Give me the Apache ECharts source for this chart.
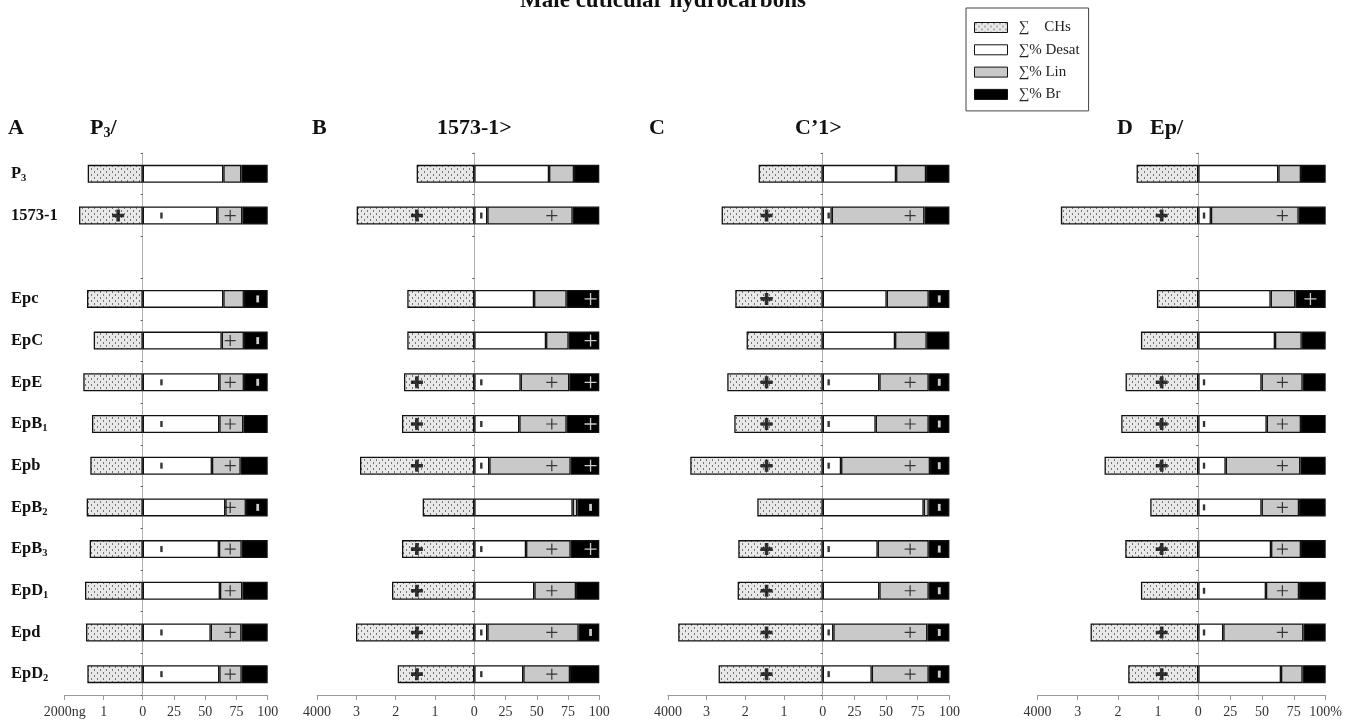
<!DOCTYPE html>
<html>
<head>
<meta charset="utf-8">
<script src="https://cdn.jsdelivr.net/npm/echarts@6/dist/echarts.min.js"></script>
<style>
  html, body { margin: 0; padding: 0; background: #fff; }
  #chart { width: 1359px; height: 724px; }
</style>
</head>
<body>
<div id="chart"></div>
<script>
// Strains / lines, top to bottom (the empty entry is a spacer row)
const categories = ['P3', '1573-1', '', 'Epc', 'EpC', 'EpE', 'EpB1', 'Epb', 'EpB2', 'EpB3', 'EpD1', 'Epd', 'EpD2'];

// Total cuticular hydrocarbons (ng) per panel
const totA = [1410, 1633, null, 1428, 1256, 1523, 1300, 1343, 1436, 1359, 1479, 1453, 1419];
const totB = [1466, 2993, null, 1705, 1705, 1789, 1840, 2908, 1313, 1840, 2094, 3010, 1949];
const totC = [1655, 2612, null, 2259, 1966, 2466, 2284, 3422, 1690, 2181, 2198, 3733, 2690];
const totD = [1535, 3419, null, 1029, 1427, 1809, 1917, 2332, 1195, 1817, 1427, 2680, 1743];

// Percent desaturated / linear / branched per panel
const desatA = [64.5, 59.7, null, 64.5, 63.2, 61.3, 61.3, 55.4, 66.1, 61.0, 61.8, 54.4, 61.3];
const linA   = [14.4, 20.0, null, 16.5, 17.8, 19.7, 19.2, 23.0, 16.5, 18.2, 17.9, 24.6, 17.9];
const brA    = [21.1, 20.3, null, 19.0, 19.0, 19.0, 19.5, 21.6, 17.4, 20.8, 20.3, 21.0, 20.8];

const desatB = [59.8, 10.4, null, 47.8, 57.4, 37.1, 36.0, 12.0, 78.7, 41.4, 48.0, 10.4, 39.2];
const linB   = [20.0, 68.3, null, 26.1, 18.1, 38.9, 37.9, 65.1, 3.7, 35.7, 33.4, 73.1, 37.4];
const brB    = [20.2, 21.3, null, 26.1, 24.5, 24.0, 26.1, 22.9, 17.6, 22.9, 18.6, 16.5, 23.4];

const desatC = [57.9, 7.1, null, 50.5, 57.1, 44.7, 41.8, 14.5, 79.7, 43.4, 44.7, 8.4, 38.7];
const linC   = [23.7, 73.2, null, 33.2, 25.0, 39.0, 41.9, 70.2, 4.0, 40.3, 39.0, 74.2, 45.0];
const brC    = [18.4, 19.7, null, 16.3, 17.9, 16.3, 16.3, 15.3, 16.3, 16.3, 16.3, 17.4, 16.3];

const desatD = [62.8, 9.9, null, 56.8, 60.2, 49.7, 53.7, 21.5, 49.7, 57.1, 53.1, 19.6, 64.9];
const linD   = [17.8, 68.9, null, 19.4, 21.0, 32.2, 26.9, 58.6, 29.4, 23.5, 26.0, 62.9, 17.0];
const brD    = [19.4, 21.2, null, 23.8, 18.8, 18.1, 19.4, 19.9, 20.9, 19.4, 20.9, 17.5, 18.1];

// Significance flags per row: [total, desat, lin, br]; '+' = plus, 'ı' = tick, '-' = none
const sigA = ['----', '+ı+-', '', '---ı', '--+ı', '-ı+ı', '-ı+-', '-ı+-', '--+ı', '-ı+-', '--+-', '-ı+-', '-ı+-'];
const sigB = ['----', '+ı+-', '', '---+', '---+', '+ı++', '+ı++', '+ı++', '---ı', '+ı++', '+-+-', '+ı+ı', '+ı+-'];
const sigC = ['----', '+ı+-', '', '+--ı', '----', '+ı+ı', '+ı+ı', '+ı+ı', '---ı', '+ı+ı', '+-+ı', '+ı+ı', '+ı+ı'];
const sigD = ['----', '+ı+-', '', '---+', '----', '+ı+-', '+ı+-', '+ı+-', '-ı+-', '+-+-', '-ı+-', '+ı+-', '+---'];

// Panel letters and titles
const panelLetters = ['A', 'B', 'C', 'D'];
const panelTitles = ['{t|P}{s|3}{t|/}', '{t|1573-1>}', '{t|C\u20191>}', '{t|Ep/}'];
const totalMax = [2000, 4000, 4000, 4000];
const totalUnit = ['ng', '', '', ''];
const pctTickLabels = [['0', '25', '50', '75', '100'], ['0', '25', '50', '75', '100'],
                       ['0', '25', '50', '75', '100'], ['0', '25', '50', '75', '100%']];
const seriesNames = ['\u2211    CHs', '\u2211% Desat', '\u2211% Lin', '\u2211% Br'];
const chartTitle = 'Male cuticular hydrocarbons';

// ---- layout (pixels) ----
const FONT = '"Liberation Serif", "Times New Roman", serif';
const GRID_TOP = 153, GRID_H = 542, BAR_W = 18;
const panelBox = [
  { zero: 142.7, leftW: 78, rightW: 125 },
  { zero: 474.3, leftW: 157.2, rightW: 125 },
  { zero: 822.7, leftW: 154.8, rightW: 126.7 },
  { zero: 1198.3, leftW: 160.8, rightW: 127.4 }
];
// horizontal placement of the significance symbols inside each panel
const markPos = [
  { tot: 630, desat: 15, lin: 70, br: 92 },
  { tot: 1460, desat: 5.6, lin: 62, br: 93 },
  { tot: 1450, desat: 4.7, lin: 69, br: 92 },
  { tot: 910, desat: 4.5, lin: 66, br: 88 }
];
const lettersPos = [{ x: 8, tx: 90 }, { x: 312, tx: 437 }, { x: 649, tx: 795 }, { x: 1117, tx: 1150 }];

const panels = [
  { tot: totA, desat: desatA, lin: linA, br: brA, sig: sigA },
  { tot: totB, desat: desatB, lin: linB, br: brB, sig: sigB },
  { tot: totC, desat: desatC, lin: linC, br: brC, sig: sigC },
  { tot: totD, desat: desatD, lin: linD, br: brD, sig: sigD }
];

// dotted fill for the total-amount bars
function dotPattern() {
  const c = document.createElement('canvas');
  c.width = 6; c.height = 6;
  const g = c.getContext('2d');
  g.fillStyle = '#e8e8e8';
  g.fillRect(0, 0, 6, 6);
  g.fillStyle = '#777777';
  g.fillRect(1, 0, 1, 2);
  g.fillRect(4, 3, 1, 2);
  return c;
}
const dots = { image: dotPattern(), repeat: 'repeat' };

const PLUS_BOLD = 'path://M3.5,0H6.5V3.5H10V6.5H6.5V10H3.5V6.5H0V3.5H3.5Z';
const PLUS_THIN = 'path://M4.45,0H5.55V4.45H10V5.55H5.55V10H4.45V5.55H0V4.45H4.45Z';

const border = { borderColor: '#111', borderWidth: 1.3 };
const axisText = { fontFamily: FONT, fontSize: 14, color: '#333' };

const grids = [], xAxes = [], yAxes = [], series = [];

function rowLabel(v) {
  const m = v.match(/^(P|EpB|EpD)(\d)$/);
  return m ? '{b|' + m[1] + '}{s|' + m[2] + '}' : (v ? '{b|' + v + '}' : '');
}

panels.forEach((p, i) => {
  const box = panelBox[i];
  const gl = 2 * i, gr = 2 * i + 1;
  grids.push({ left: box.zero - box.leftW, width: box.leftW, top: GRID_TOP, height: GRID_H });
  grids.push({ left: box.zero, width: box.rightW, top: GRID_TOP, height: GRID_H });

  xAxes.push({
    gridIndex: gl, type: 'value', inverse: true, min: 0, max: totalMax[i], interval: 1000,
    axisLine: { show: true, lineStyle: { color: '#9a9a9a' } },
    axisTick: { show: true, length: 5, lineStyle: { color: '#9a9a9a' } },
    splitLine: { show: false },
    axisLabel: {
      ...axisText, margin: 10,
      formatter: v => v === 0 ? '' : (v === totalMax[i] ? v + totalUnit[i] : String(v / 1000))
    }
  });
  xAxes.push({
    gridIndex: gr, type: 'value', min: 0, max: 100, interval: 25,
    axisLine: { show: true, lineStyle: { color: '#9a9a9a' } },
    axisTick: { show: true, length: 5, lineStyle: { color: '#9a9a9a' } },
    splitLine: { show: false },
    axisLabel: { ...axisText, margin: 10, formatter: v => pctTickLabels[i][v / 25] }
  });

  yAxes.push({
    gridIndex: gl, type: 'category', inverse: true, data: categories,
    axisLine: { show: false }, axisTick: { show: false },
    axisLabel: {
      show: i === 0, align: 'left', margin: box.zero - box.leftW - 11,
      formatter: rowLabel,
      rich: {
        b: { fontFamily: FONT, fontWeight: 'bold', fontSize: 16.5, color: '#111' },
        s: { fontFamily: FONT, fontWeight: 'bold', fontSize: 10.5, color: '#111', padding: [9, 0, 0, 0] }
      }
    }
  });
  yAxes.push({
    gridIndex: gr, type: 'category', inverse: true, data: categories,
    axisLine: { show: true, lineStyle: { color: '#b0b0b0', width: 1 } },
    axisTick: { show: true, length: 2, lineStyle: { color: '#555' } },
    axisLabel: { show: false }
  });

  series.push({
    type: 'bar', name: seriesNames[0], xAxisIndex: gl, yAxisIndex: gl,
    data: p.tot, barWidth: BAR_W, itemStyle: { color: dots, ...border }
  });
  const pctColors = ['#ffffff', '#c9c9c9', '#000000'];
  [p.desat, p.lin, p.br].forEach((d, k) => {
    series.push({
      type: 'bar', name: seriesNames[k + 1], xAxisIndex: gr, yAxisIndex: gr,
      stack: 'pct' + i, data: d, barWidth: BAR_W,
      itemStyle: { color: pctColors[k], ...border }
    });
  });

  // significance symbols
  const mp = markPos[i];
  const leftMarks = [], rightMarks = [];
  p.sig.forEach((s, r) => {
    if (!s) return;
    if (s[0] === '+') leftMarks.push([mp.tot, r]);
    if (s[1] === 'ı') rightMarks.push({ value: [mp.desat, r], symbol: 'rect', symbolSize: [2.4, 6], itemStyle: { color: '#000' } });
    if (s[2] === '+') rightMarks.push({ value: [mp.lin, r], symbol: PLUS_THIN, symbolSize: 11, itemStyle: { color: '#111' } });
    if (s[3] === '+') rightMarks.push({ value: [mp.br, r], symbol: PLUS_THIN, symbolSize: 12, itemStyle: { color: '#fff' } });
    if (s[3] === 'ı') rightMarks.push({ value: [mp.br, r], symbol: 'rect', symbolSize: [2.8, 7], itemStyle: { color: '#fff' } });
  });
  series.push({
    type: 'scatter', xAxisIndex: gl, yAxisIndex: gl, data: leftMarks, z: 5, silent: true,
    symbol: PLUS_BOLD, symbolSize: 12, itemStyle: { color: '#000' }
  });
  series.push({
    type: 'scatter', xAxisIndex: gr, yAxisIndex: gr, data: rightMarks, z: 5, silent: true
  });
});

// titles and panel letters
const graphic = [{
  type: 'text', x: 663, y: 1,
  style: { text: chartTitle, font: 'bold 23px ' + FONT, fill: '#111', textAlign: 'center', textVerticalAlign: 'middle' }
}];
panelLetters.forEach((L, i) => {
  graphic.push({
    type: 'text', x: lettersPos[i].x, y: 128,
    style: { text: L, font: 'bold 22px ' + FONT, fill: '#111', textVerticalAlign: 'middle' }
  });
  graphic.push({
    type: 'text', x: lettersPos[i].tx, y: 128,
    style: {
      text: panelTitles[i], textVerticalAlign: 'middle',
      rich: {
        t: { fontFamily: FONT, fontWeight: 'bold', fontSize: 22, fill: '#111' },
        s: { fontFamily: FONT, fontWeight: 'bold', fontSize: 14, fill: '#111', padding: [11, 0, 0, 0] }
      }
    }
  });
});

const chart = echarts.init(document.getElementById('chart'), null, { renderer: 'canvas' });
chart.setOption({
  animation: false,
  backgroundColor: '#ffffff',
  grid: grids,
  xAxis: xAxes,
  yAxis: yAxes,
  series: series,
  legend: {
    data: seriesNames, orient: 'vertical', left: 966, top: 8,
    padding: [12, 9, 9, 8], itemGap: 7.3, itemWidth: 33, itemHeight: 10,
    icon: 'rect', borderColor: '#444', borderWidth: 1,
    itemStyle: { borderColor: '#111', borderWidth: 1 },
    textStyle: { fontFamily: FONT, fontSize: 15, color: '#222', padding: [0, 0, 0, 6] },
    selectedMode: false
  },
  graphic: graphic
});
</script>
</body>
</html>
